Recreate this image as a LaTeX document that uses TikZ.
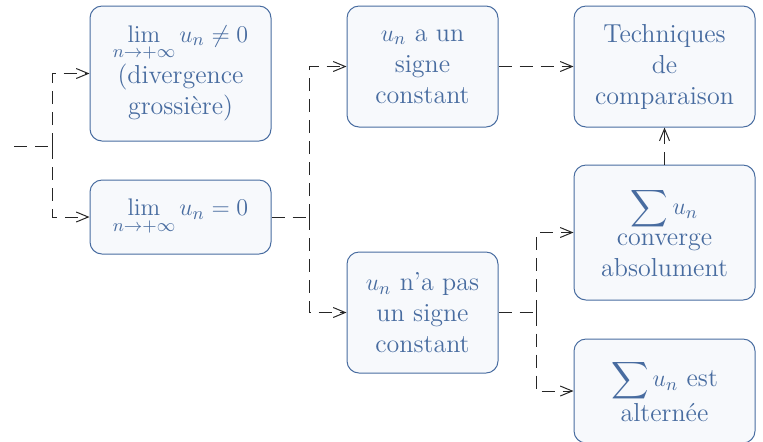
\documentclass[tikz,border=0pt]{standalone}
\usepackage{amsmath,amssymb}
\usetikzlibrary{arrows.meta}

\definecolor{boxblue}{RGB}{72,108,160}
\definecolor{boxfill}{RGB}{247,249,252}

\tikzset{
	stepbox/.style={draw=boxblue, fill=boxfill, text=boxblue, line width=0.5pt,
		rounded corners=6pt, align=center, inner sep=0pt,
		font=\fontsize{13}{15.5}\selectfont},
	link/.style={draw=black!85, line width=0.5pt, dash pattern=on 6.5pt off 4pt,
		-{Straight Barb[length=6pt,width=5pt]}},
	plain/.style={draw=black!85, line width=0.5pt, dash pattern=on 6.5pt off 4pt},
}

\begin{document}
\begin{tikzpicture}[x=0.5pt,y=0.5pt,yscale=-1]
	\useasboundingbox (0,0) rectangle (763,441);

	% first column
	\node[stepbox, minimum width=90.5pt, minimum height=67.5pt] (nonzero) at (180.5,73.5)
		{$\displaystyle\lim_{n\to+\infty} u_n \neq 0$\\(divergence\\grossière)};
	\node[stepbox, minimum width=90.5pt, minimum height=37pt] (zero) at (180.5,217)
		{$\displaystyle\lim_{n\to+\infty} u_n = 0$};

	% second column
	\node[stepbox, minimum width=75.5pt, minimum height=60.5pt] (const) at (422.5,66.5)
		{$u_n$ a un\\signe\\constant};
	\node[stepbox, minimum width=75.5pt, minimum height=60.5pt] (nonconst) at (422.5,312.5)
		{$u_n$ n'a pas\\un signe\\constant};

	% third column
	\node[stepbox, minimum width=90.5pt, minimum height=60.5pt] (comp) at (664.5,66.5)
		{Techniques\\de\\comparaison};
	\node[stepbox, minimum width=90.5pt, minimum height=67.5pt] (abs) at (664.5,232.5)
		{$\displaystyle\sum u_n$\\converge\\absolument};
	\node[stepbox, minimum width=90.5pt, minimum height=52pt] (alt) at (664.5,391)
		{$\displaystyle\sum u_n$ est\\alternée};

	% forks
	\coordinate (start) at (14,146);
	\coordinate (fork1) at (52,146);
	\coordinate (fork2) at (309,217);
	\coordinate (fork3) at (536,312.5);

	% connectors
	\draw[plain] (start) -- (fork1);
	\draw[link] (fork1) |- (nonzero.west);
	\draw[link] (fork1) |- (zero.west);
	\draw[plain] (zero.east) -- (fork2);
	\draw[link] (fork2) |- (const.west);
	\draw[link] (fork2) |- (nonconst.west);
	\draw[link] (const.east) -- (comp.west);
	\draw[plain] (nonconst.east) -- (fork3);
	\draw[link] (fork3) |- (abs.west);
	\draw[link] (fork3) |- (alt.west);
	\draw[link] (abs.north) -- (comp.south);
\end{tikzpicture}
\end{document}
